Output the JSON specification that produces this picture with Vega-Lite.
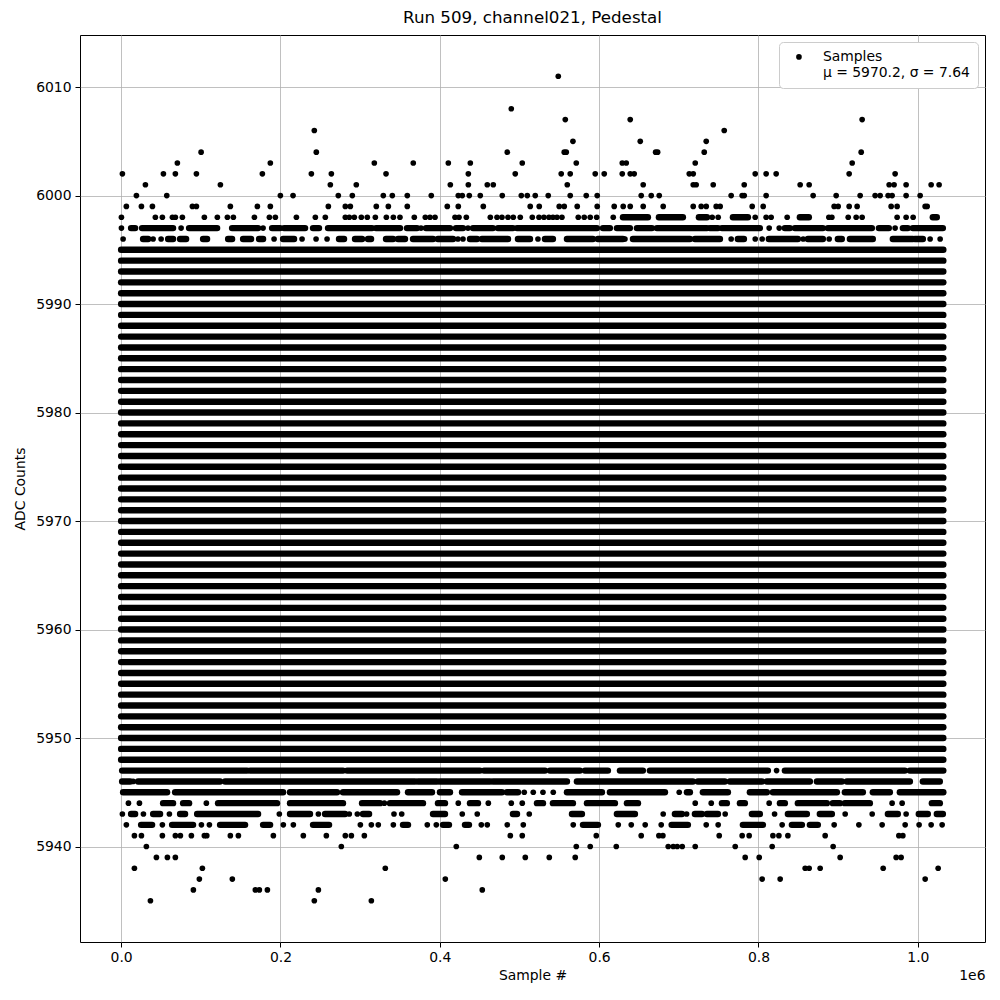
{
"$schema": "https://vega.github.io/schema/vega-lite/v6.json",
"width": 905, "height": 907,
"autosize": "none",
"padding": {"left": 80, "top": 35, "right": 15, "bottom": 58},
"background": "white",
"title": {"text": "Run 509, channel021, Pedestal", "font": "DejaVu Sans", "fontSize": 16.7, "fontWeight": "normal", "color": "black", "offset": 8},
"config": {
 "font": "DejaVu Sans",
 "view": {"stroke": "black", "strokeWidth": 1},
 "axis": {"labelFont": "DejaVu Sans", "labelFontSize": 13.9, "labelColor": "black", "titleFont": "DejaVu Sans", "titleFontSize": 13.9, "titleFontWeight": "normal", "titleColor": "black", "tickColor": "black", "tickSize": 5, "domain": false, "gridColor": "#b0b0b0", "gridWidth": 0.8}
},
"datasets": {
"segments": [
{"level":5948,"start":0,"end":1032000},{"level":5949,"start":0,"end":1032000},{"level":5950,"start":0,"end":1032000},{"level":5951,"start":0,"end":1032000},{"level":5952,"start":0,"end":1032000},{"level":5953,"start":0,"end":1032000},{"level":5954,"start":0,"end":1032000},{"level":5955,"start":0,"end":1032000},{"level":5956,"start":0,"end":1032000},{"level":5957,"start":0,"end":1032000},{"level":5958,"start":0,"end":1032000},{"level":5959,"start":0,"end":1032000},{"level":5960,"start":0,"end":1032000},{"level":5961,"start":0,"end":1032000},{"level":5962,"start":0,"end":1032000},{"level":5963,"start":0,"end":1032000},{"level":5964,"start":0,"end":1032000},{"level":5965,"start":0,"end":1032000},{"level":5966,"start":0,"end":1032000},{"level":5967,"start":0,"end":1032000},{"level":5968,"start":0,"end":1032000},{"level":5969,"start":0,"end":1032000},{"level":5970,"start":0,"end":1032000},{"level":5971,"start":0,"end":1032000},{"level":5972,"start":0,"end":1032000},{"level":5973,"start":0,"end":1032000},{"level":5974,"start":0,"end":1032000},{"level":5975,"start":0,"end":1032000},{"level":5976,"start":0,"end":1032000},{"level":5977,"start":0,"end":1032000},{"level":5978,"start":0,"end":1032000},{"level":5979,"start":0,"end":1032000},{"level":5980,"start":0,"end":1032000},{"level":5981,"start":0,"end":1032000},{"level":5982,"start":0,"end":1032000},{"level":5983,"start":0,"end":1032000},{"level":5984,"start":0,"end":1032000},{"level":5985,"start":0,"end":1032000},{"level":5986,"start":0,"end":1032000},{"level":5987,"start":0,"end":1032000},{"level":5988,"start":0,"end":1032000},{"level":5989,"start":0,"end":1032000},{"level":5990,"start":0,"end":1032000},{"level":5991,"start":0,"end":1032000},{"level":5992,"start":0,"end":1032000},{"level":5993,"start":0,"end":1032000},{"level":5994,"start":0,"end":1032000},{"level":5995,"start":0,"end":1032000},
{"level":5998,"start":629900,"end":661200},{"level":5998,"start":675000,"end":705100},{"level":5998,"start":725200,"end":735300},{"level":5998,"start":767900,"end":786700},{"level":5998,"start":851900,"end":863200},{"level":5998,"start":1018800,"end":1023800},
{"level":5997,"start":12500,"end":17600},{"level":5997,"start":26300,"end":65200},{"level":5997,"start":85300,"end":120500},{"level":5997,"start":139300,"end":171900},{"level":5997,"start":189500,"end":199500},{"level":5997,"start":204500,"end":230900},{"level":5997,"start":240900,"end":248400},{"level":5997,"start":259700,"end":314900},{"level":5997,"start":319900,"end":350100},{"level":5997,"start":358800,"end":371400},{"level":5997,"start":382700,"end":412800},{"level":5997,"start":420300,"end":429100},{"level":5997,"start":441700,"end":466700},{"level":5997,"start":473000,"end":491800},{"level":5997,"start":496900,"end":597200},{"level":5997,"start":604800,"end":613500},{"level":5997,"start":622300,"end":638600},{"level":5997,"start":647400,"end":666200},{"level":5997,"start":672500,"end":735300},{"level":5997,"start":739000,"end":749100},{"level":5997,"start":754100,"end":801700},{"level":5997,"start":833100,"end":839400},{"level":5997,"start":845700,"end":880800},{"level":5997,"start":887100,"end":942300},{"level":5997,"start":951100,"end":963600},{"level":5997,"start":981200,"end":987400},{"level":5997,"start":993700,"end":1031400},
{"level":5996,"start":27600,"end":33900},{"level":5996,"start":59000,"end":65200},{"level":5996,"start":74000,"end":81600},{"level":5996,"start":102900,"end":107900},{"level":5996,"start":134300,"end":139300},{"level":5996,"start":153100,"end":163100},{"level":5996,"start":173200,"end":178200},{"level":5996,"start":203300,"end":217100},{"level":5996,"start":273500,"end":279800},{"level":5996,"start":293600,"end":302400},{"level":5996,"start":309900,"end":313700},{"level":5996,"start":332500,"end":341300},{"level":5996,"start":347600,"end":356300},{"level":5996,"start":366400,"end":391500},{"level":5996,"start":397700,"end":416600},{"level":5996,"start":437900,"end":446700},{"level":5996,"start":452900,"end":485600},{"level":5996,"start":498100,"end":513200},{"level":5996,"start":532000,"end":542000},{"level":5996,"start":559600,"end":592200},{"level":5996,"start":598500,"end":629900},{"level":5996,"start":642400,"end":713900},{"level":5996,"start":720200,"end":751600},{"level":5996,"start":774100,"end":781700},{"level":5996,"start":813000,"end":849400},{"level":5996,"start":862000,"end":880800},{"level":5996,"start":899600,"end":904600},{"level":5996,"start":914700,"end":943500},{"level":5996,"start":968600,"end":993700},{"level":5996,"start":996200,"end":1006300},
{"level":5947,"start":1300,"end":158100},{"level":5947,"start":161900,"end":278500},{"level":5947,"start":283600,"end":450400},{"level":5947,"start":455500,"end":532000},{"level":5947,"start":538300,"end":575900},{"level":5947,"start":582200,"end":611000},{"level":5947,"start":626100,"end":654900},{"level":5947,"start":663700,"end":811800},{"level":5947,"start":833100,"end":983700},{"level":5947,"start":990000,"end":1032000},
{"level":5946,"start":1300,"end":11300},{"level":5946,"start":21300,"end":124200},{"level":5946,"start":130500,"end":368900},{"level":5946,"start":372600,"end":396500},{"level":5946,"start":400200,"end":463000},{"level":5946,"start":466700,"end":559600},{"level":5946,"start":572100,"end":717700},{"level":5946,"start":723900,"end":757800},{"level":5946,"start":764100,"end":804300},{"level":5946,"start":810500,"end":864500},{"level":5946,"start":873300,"end":904600},{"level":5946,"start":910900,"end":990000},{"level":5946,"start":1006300,"end":1027600},
{"level":5945,"start":2500,"end":57700},{"level":5945,"start":67800,"end":203300},{"level":5945,"start":212000,"end":271000},{"level":5945,"start":278500,"end":346300},{"level":5945,"start":360100,"end":390200},{"level":5945,"start":400200,"end":412800},{"level":5945,"start":427900,"end":478000},{"level":5945,"start":484300,"end":498100},{"level":5945,"start":559600,"end":603500},{"level":5945,"start":613500,"end":682600},{"level":5945,"start":710200,"end":713900},{"level":5945,"start":730200,"end":761600},{"level":5945,"start":789200,"end":810500},{"level":5945,"start":818100,"end":898400},{"level":5945,"start":908400,"end":931000},{"level":5945,"start":943500,"end":964900},{"level":5945,"start":977400,"end":1032000},
{"level":5944,"start":52700,"end":65200},{"level":5944,"start":77800,"end":85300},{"level":5944,"start":121700,"end":195700},{"level":5944,"start":212000,"end":278500},{"level":5944,"start":302400,"end":325000},{"level":5944,"start":337500,"end":378900},{"level":5944,"start":397700,"end":406500},{"level":5944,"start":437900,"end":447900},{"level":5944,"start":522000,"end":529500},{"level":5944,"start":542000,"end":567100},{"level":5944,"start":584700,"end":619800},{"level":5944,"start":634900,"end":648700},{"level":5944,"start":754100,"end":760300},{"level":5944,"start":776700,"end":782900},{"level":5944,"start":826900,"end":833100},{"level":5944,"start":849400,"end":885800},{"level":5944,"start":893300,"end":902100},{"level":5944,"start":908400,"end":939800},{"level":5944,"start":1017600,"end":1027600},
{"level":5943,"start":12500,"end":17600},{"level":5943,"start":40200,"end":48900},{"level":5943,"start":74000,"end":80300},{"level":5943,"start":95400,"end":171900},{"level":5943,"start":212000,"end":237100},{"level":5943,"start":256000,"end":281100},{"level":5943,"start":303600,"end":311200},{"level":5943,"start":391500,"end":406500},{"level":5943,"start":491800,"end":496900},{"level":5943,"start":565900,"end":578400},{"level":5943,"start":622300,"end":644900},{"level":5943,"start":695100,"end":703900},{"level":5943,"start":720200,"end":729000},{"level":5943,"start":735300,"end":749100},{"level":5943,"start":791700,"end":801700},{"level":5943,"start":836900,"end":860700},{"level":5943,"start":877000,"end":892100},{"level":5943,"start":962400,"end":974900},{"level":5943,"start":1001200,"end":1012500},{"level":5943,"start":1023800,"end":1031400},
{"level":5942,"start":25100,"end":38900},{"level":5942,"start":64000,"end":90300},{"level":5942,"start":124200,"end":155600},{"level":5942,"start":178200,"end":187000},{"level":5942,"start":240900,"end":261000},{"level":5942,"start":353800,"end":360100},{"level":5942,"start":404000,"end":411500},{"level":5942,"start":431600,"end":436600},{"level":5942,"start":579700,"end":598500},{"level":5942,"start":691000,"end":711400},{"level":5942,"start":780400,"end":805500},{"level":5942,"start":841900,"end":854500},{"level":5942,"start":864500,"end":874500}
],
"points": [
{"level":6011,"sample":548700},{"level":6008,"sample":489700},
{"level":6007,"sample":557500},{"level":6007,"sample":639000},{"level":6007,"sample":930100},
{"level":6006,"sample":242500},{"level":6006,"sample":757000},
{"level":6005,"sample":567100},{"level":6005,"sample":651600},{"level":6005,"sample":734400},
{"level":6004,"sample":100400},{"level":6004,"sample":245000},{"level":6004,"sample":484700},{"level":6004,"sample":556200},{"level":6004,"sample":558700},{"level":6004,"sample":670900},{"level":6004,"sample":673400},{"level":6004,"sample":731900},{"level":6004,"sample":928900},
{"level":6003,"sample":70600},{"level":6003,"sample":187300},{"level":6003,"sample":317800},{"level":6003,"sample":366700},{"level":6003,"sample":410700},{"level":6003,"sample":438300},{"level":6003,"sample":503500},{"level":6003,"sample":571300},{"level":6003,"sample":629000},{"level":6003,"sample":634000},{"level":6003,"sample":720600},{"level":6003,"sample":917600},
{"level":6002,"sample":1600},{"level":6002,"sample":53100},{"level":6002,"sample":68100},{"level":6002,"sample":94500},{"level":6002,"sample":177300},{"level":6002,"sample":238800},{"level":6002,"sample":263900},{"level":6002,"sample":332500},{"level":6002,"sample":435800},{"level":6002,"sample":494700},{"level":6002,"sample":552400},{"level":6002,"sample":563700},{"level":6002,"sample":595100},{"level":6002,"sample":606400},{"level":6002,"sample":629000},{"level":6002,"sample":639000},{"level":6002,"sample":644000},{"level":6002,"sample":713100},{"level":6002,"sample":718100},{"level":6002,"sample":795900},{"level":6002,"sample":809600},{"level":6002,"sample":822200},{"level":6002,"sample":913800},{"level":6002,"sample":971500},
{"level":6001,"sample":30500},{"level":6001,"sample":124600},{"level":6001,"sample":262600},{"level":6001,"sample":295200},{"level":6001,"sample":413200},{"level":6001,"sample":435800},{"level":6001,"sample":459600},{"level":6001,"sample":467100},{"level":6001,"sample":560000},{"level":6001,"sample":655300},{"level":6001,"sample":718100},{"level":6001,"sample":721800},{"level":6001,"sample":743200},{"level":6001,"sample":782100},{"level":6001,"sample":852300},{"level":6001,"sample":863600},{"level":6001,"sample":964000},{"level":6001,"sample":970200},{"level":6001,"sample":985300},{"level":6001,"sample":1016700},{"level":6001,"sample":1026700},
{"level":6000,"sample":19200},{"level":6000,"sample":57300},{"level":6000,"sample":199900},{"level":6000,"sample":215800},{"level":6000,"sample":272600},{"level":6000,"sample":290200},{"level":6000,"sample":329100},{"level":6000,"sample":340400},{"level":6000,"sample":359200},{"level":6000,"sample":389300},{"level":6000,"sample":423200},{"level":6000,"sample":428200},{"level":6000,"sample":437000},{"level":6000,"sample":450800},{"level":6000,"sample":478400},{"level":6000,"sample":502300},{"level":6000,"sample":509800},{"level":6000,"sample":519800},{"level":6000,"sample":536100},{"level":6000,"sample":563700},{"level":6000,"sample":583800},{"level":6000,"sample":597600},{"level":6000,"sample":652800},{"level":6000,"sample":665400},{"level":6000,"sample":675400},{"level":6000,"sample":765700},{"level":6000,"sample":779500},{"level":6000,"sample":782100},{"level":6000,"sample":809600},{"level":6000,"sample":868600},{"level":6000,"sample":897500},{"level":6000,"sample":927600},{"level":6000,"sample":946400},{"level":6000,"sample":952700},{"level":6000,"sample":962700},{"level":6000,"sample":967700},{"level":6000,"sample":985300},{"level":6000,"sample":1002900},
{"level":5999,"sample":6600},{"level":5999,"sample":25500},{"level":5999,"sample":39300},{"level":5999,"sample":89500},{"level":5999,"sample":94500},{"level":5999,"sample":137100},{"level":5999,"sample":171000},{"level":5999,"sample":187300},{"level":5999,"sample":260100},{"level":5999,"sample":281400},{"level":5999,"sample":287700},{"level":5999,"sample":320300},{"level":5999,"sample":335400},{"level":5999,"sample":359200},{"level":5999,"sample":409400},{"level":5999,"sample":423200},{"level":5999,"sample":454600},{"level":5999,"sample":513500},{"level":5999,"sample":524800},{"level":5999,"sample":549900},{"level":5999,"sample":556200},{"level":5999,"sample":572500},{"level":5999,"sample":597600},{"level":5999,"sample":618900},{"level":5999,"sample":630200},{"level":5999,"sample":639000},{"level":5999,"sample":655300},{"level":5999,"sample":680400},{"level":5999,"sample":718100},{"level":5999,"sample":728100},{"level":5999,"sample":734400},{"level":5999,"sample":746900},{"level":5999,"sample":751900},{"level":5999,"sample":792100},{"level":5999,"sample":805900},{"level":5999,"sample":895000},{"level":5999,"sample":900000},{"level":5999,"sample":913800},{"level":5999,"sample":923800},{"level":5999,"sample":966500},{"level":5999,"sample":974000},{"level":5999,"sample":1009200},{"level":5999,"sample":1011700},
{"level":5998,"sample":400},{"level":5998,"sample":43000},{"level":5998,"sample":51800},{"level":5998,"sample":64400},{"level":5998,"sample":68100},{"level":5998,"sample":76900},{"level":5998,"sample":104500},{"level":5998,"sample":120800},{"level":5998,"sample":133400},{"level":5998,"sample":140900},{"level":5998,"sample":167300},{"level":5998,"sample":186100},{"level":5998,"sample":193600},{"level":5998,"sample":220000},{"level":5998,"sample":243800},{"level":5998,"sample":256300},{"level":5998,"sample":281400},{"level":5998,"sample":286400},{"level":5998,"sample":292700},{"level":5998,"sample":301500},{"level":5998,"sample":309000},{"level":5998,"sample":319100},{"level":5998,"sample":332900},{"level":5998,"sample":341700},{"level":5998,"sample":350000},{"level":5998,"sample":368000},{"level":5998,"sample":381800},{"level":5998,"sample":387700},{"level":5998,"sample":394000},{"level":5998,"sample":419100},{"level":5998,"sample":424100},{"level":5998,"sample":433300},{"level":5998,"sample":463400},{"level":5998,"sample":471800},{"level":5998,"sample":478000},{"level":5998,"sample":485600},{"level":5998,"sample":492200},{"level":5998,"sample":501000},{"level":5998,"sample":516100},{"level":5998,"sample":524500},{"level":5998,"sample":530700},{"level":5998,"sample":537000},{"level":5998,"sample":542000},{"level":5998,"sample":547100},{"level":5998,"sample":553300},{"level":5998,"sample":573800},{"level":5998,"sample":581300},{"level":5998,"sample":588800},{"level":5998,"sample":596900},{"level":5998,"sample":617700},{"level":5998,"sample":741900},{"level":5998,"sample":749400},{"level":5998,"sample":795900},{"level":5998,"sample":809600},{"level":5998,"sample":815900},{"level":5998,"sample":836000},{"level":5998,"sample":888300},{"level":5998,"sample":892100},{"level":5998,"sample":912600},{"level":5998,"sample":922600},{"level":5998,"sample":930100},{"level":5998,"sample":974000},{"level":5998,"sample":985300},{"level":5998,"sample":994100},
{"level":5997,"sample":400},{"level":5997,"sample":75300},{"level":5997,"sample":178200},{"level":5997,"sample":376400},{"level":5997,"sample":435400},{"level":5997,"sample":813400},{"level":5997,"sample":826000},{"level":5997,"sample":971500},
{"level":5996,"sample":2500},{"level":5996,"sample":40200},{"level":5996,"sample":50200},{"level":5996,"sample":192000},{"level":5996,"sample":227100},{"level":5996,"sample":244700},{"level":5996,"sample":258500},{"level":5996,"sample":422800},{"level":5996,"sample":429100},{"level":5996,"sample":523200},{"level":5996,"sample":632400},{"level":5996,"sample":765700},{"level":5996,"sample":795900},{"level":5996,"sample":804600},{"level":5996,"sample":856100},{"level":5996,"sample":888700},{"level":5996,"sample":1015400},{"level":5996,"sample":1028000},
{"level":5947,"sample":822700},{"level":5946,"sample":15100},
{"level":5945,"sample":506000},{"level":5945,"sample":517300},{"level":5945,"sample":529500},{"level":5945,"sample":542400},{"level":5945,"sample":700500},
{"level":5944,"sample":9200},{"level":5944,"sample":23000},{"level":5944,"sample":107000},{"level":5944,"sample":330400},{"level":5944,"sample":423200},{"level":5944,"sample":460900},{"level":5944,"sample":489700},{"level":5944,"sample":503500},{"level":5944,"sample":720600},{"level":5944,"sample":740700},{"level":5944,"sample":813400},{"level":5944,"sample":967700},{"level":5944,"sample":980300},
{"level":5943,"sample":1600},{"level":5943,"sample":28000},{"level":5943,"sample":60600},{"level":5943,"sample":198600},{"level":5943,"sample":247600},{"level":5943,"sample":286400},{"level":5943,"sample":296500},{"level":5943,"sample":342500},{"level":5943,"sample":352200},{"level":5943,"sample":428200},{"level":5943,"sample":447000},{"level":5943,"sample":512300},{"level":5943,"sample":680400},{"level":5943,"sample":709800},{"level":5943,"sample":758200},{"level":5943,"sample":820200},{"level":5943,"sample":908800},{"level":5943,"sample":942700},{"level":5943,"sample":985300},
{"level":5942,"sample":6600},{"level":5942,"sample":51800},{"level":5942,"sample":100800},{"level":5942,"sample":110800},{"level":5942,"sample":203600},{"level":5942,"sample":216200},{"level":5942,"sample":300300},{"level":5942,"sample":314100},{"level":5942,"sample":322800},{"level":5942,"sample":341700},{"level":5942,"sample":384300},{"level":5942,"sample":395600},{"level":5942,"sample":452100},{"level":5942,"sample":459600},{"level":5942,"sample":484700},{"level":5942,"sample":504800},{"level":5942,"sample":567500},{"level":5942,"sample":624000},{"level":5942,"sample":640300},{"level":5942,"sample":657800},{"level":5942,"sample":677900},{"level":5942,"sample":734400},{"level":5942,"sample":749400},{"level":5942,"sample":829700},{"level":5942,"sample":895000},{"level":5942,"sample":926000},{"level":5942,"sample":955200},{"level":5942,"sample":984100},{"level":5942,"sample":1001600},{"level":5942,"sample":1016700},{"level":5942,"sample":1030500},
{"level":5941,"sample":16700},{"level":5941,"sample":25500},{"level":5941,"sample":51800},{"level":5941,"sample":68100},{"level":5941,"sample":74400},{"level":5941,"sample":88200},{"level":5941,"sample":104500},{"level":5941,"sample":107500},{"level":5941,"sample":137100},{"level":5941,"sample":147200},{"level":5941,"sample":191100},{"level":5941,"sample":228700},{"level":5941,"sample":257600},{"level":5941,"sample":281400},{"level":5941,"sample":289000},{"level":5941,"sample":305300},{"level":5941,"sample":488500},{"level":5941,"sample":503500},{"level":5941,"sample":596400},{"level":5941,"sample":652800},{"level":5941,"sample":675000},{"level":5941,"sample":680000},{"level":5941,"sample":750700},{"level":5941,"sample":779500},{"level":5941,"sample":788300},{"level":5941,"sample":818100},{"level":5941,"sample":825600},{"level":5941,"sample":836900},{"level":5941,"sample":883700},{"level":5941,"sample":976200},{"level":5941,"sample":981200},
{"level":5940,"sample":31700},{"level":5940,"sample":276400},{"level":5940,"sample":420700},{"level":5940,"sample":571300},{"level":5940,"sample":588800},{"level":5940,"sample":621500},{"level":5940,"sample":686700},{"level":5940,"sample":693000},{"level":5940,"sample":698000},{"level":5940,"sample":704300},{"level":5940,"sample":720600},{"level":5940,"sample":770800},{"level":5940,"sample":817200},{"level":5940,"sample":893700},
{"level":5939,"sample":44300},{"level":5939,"sample":58100},{"level":5939,"sample":68100},{"level":5939,"sample":449600},{"level":5939,"sample":478400},{"level":5939,"sample":507300},{"level":5939,"sample":537400},{"level":5939,"sample":570000},{"level":5939,"sample":783300},{"level":5939,"sample":800900},{"level":5939,"sample":902500},{"level":5939,"sample":972800},{"level":5939,"sample":979000},
{"level":5938,"sample":16700},{"level":5938,"sample":102000},{"level":5938,"sample":331600},{"level":5938,"sample":858600},{"level":5938,"sample":863600},{"level":5938,"sample":877400},{"level":5938,"sample":956500},{"level":5938,"sample":1025500},
{"level":5937,"sample":98200},{"level":5937,"sample":139600},{"level":5937,"sample":406900},{"level":5937,"sample":804600},{"level":5937,"sample":827200},{"level":5937,"sample":1009200},
{"level":5936,"sample":90700},{"level":5936,"sample":168500},{"level":5936,"sample":173500},{"level":5936,"sample":183600},{"level":5936,"sample":247600},{"level":5936,"sample":453300},
{"level":5935,"sample":36800},{"level":5935,"sample":242500},{"level":5935,"sample":314100}
]
},
"layer": [
{
 "data": {"name": "segments"},
 "mark": {"type": "rule", "strokeWidth": 6.4, "strokeCap": "round", "color": "black"},
 "encoding": {
  "x": {"field": "start", "type": "quantitative", "scale": {"domain": [-51600, 1084300], "nice": false, "zero": false},
        "axis": {"title": "Sample #", "values": [0, 200000, 400000, 600000, 800000, 1000000], "labelExpr": "format(datum.value / 1000000, '.1f')", "grid": true, "labelPadding": 3, "titlePadding": 5}},
  "x2": {"field": "end"},
  "y": {"field": "level", "type": "quantitative", "scale": {"domain": [5931.2, 6014.8], "nice": false, "zero": false},
        "axis": {"title": "ADC Counts", "values": [5940, 5950, 5960, 5970, 5980, 5990, 6000, 6010], "format": "d", "grid": true, "labelPadding": 4, "titlePadding": 8}}
 }
},
{
 "data": {"name": "points"},
 "mark": {"type": "point", "filled": true, "size": 32, "opacity": 1},
 "encoding": {
  "x": {"field": "sample", "type": "quantitative",
        "axis": {"orient": "bottom", "title": "1e6", "titleAnchor": "end", "labels": false, "ticks": false, "grid": false, "domain": false, "titlePadding": 26}},
  "y": {"field": "level", "type": "quantitative"},
  "color": {"datum": "Samples", "type": "nominal", "scale": {"range": ["black"]},
            "legend": {"title": null, "orient": "top-right", "offset": 7, "padding": 8, "strokeColor": "#cccccc", "fillColor": "white", "cornerRadius": 4, "labelFont": "DejaVu Sans", "labelFontSize": 13.9, "labelColor": "black", "labelLimit": 400, "symbolType": "circle", "symbolSize": 32, "symbolStrokeWidth": 0, "symbolOffset": 5, "labelOffset": 17, "labelExpr": "['Samples', 'μ = 5970.2, σ = 7.64']"}}
 }
}
],
"resolve": {"axis": {"x": "independent"}}
}
